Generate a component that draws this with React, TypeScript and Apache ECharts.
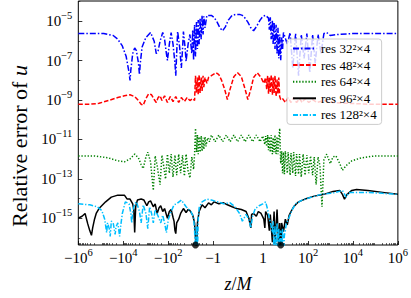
import React, { useEffect, useRef } from 'react';
import * as echarts from 'echarts';

// x axis: symmetric log (linthresh = 1, linscale = 1); y axis: log10 of the relative error
const X_MAX = 1e6;
const Y_MIN_EXP = -16.36;
const Y_MAX_EXP = -3.98;
const xTickValues = [-1e6, -1e4, -1e2, -1, 1, 1e2, 1e4, 1e6];
const yTickExps = [-15, -13, -11, -9, -7, -5];
const yMinorExps = [-16, -14, -12, -10, -8, -6, -4];
const seriesNames = ['res 32²×4', 'res 48²×4', 'res 64²×4', 'res 96²×4', 'res 128²×4'];

// [z/M, log10(relative error of u)]
const res32: [number, number][] = [
  [-1e6, -5.63], [-3.1e5, -5.63], [-7.4e4, -5.63], [-2.8e4, -5.73], [-1.75e4, -5.92], [-1.1e4, -6.26],
  [-7.4e3, -6.8], [-5.5e3, -7.62], [-5.0e3, -8.01], [-4.6e3, -7.48], [-3.8e3, -6.65], [-3.1e3, -6.36],
  [-2.6e3, -6.5], [-2.1e3, -7.14], [-1.9e3, -7.72], [-1.75e3, -7.14], [-1.45e3, -6.31], [-980, -5.83],
  [-610, -5.58], [-420, -6.02], [-340, -6.65], [-280, -6.5], [-230, -6.02], [-175, -5.58], [-145, -5.92],
  [-120, -6.65], [-108, -6.99], [-89, -6.17], [-74, -5.58], [-61, -6.17], [-50, -7.14], [-46, -7.77],
  [-42, -6.65], [-38, -5.53], [-31, -6.31], [-26, -7.38], [-23, -6.41], [-21, -5.53], [-17.5, -6.41],
  [-16, -7.04], [-13, -6.17], [-10.8, -5.68],
  [-8.9, -6.65], [-8.1, -5.44], [-7.4, -6.99], [-6.7, -5.19], [-6.1, -6.8], [-5.5, -5.05], [-5.0, -6.41],
  [-4.6, -4.95], [-4.2, -6.17], [-3.8, -4.85], [-3.4, -5.92], [-3.1, -4.71], [-2.8, -5.68], [-2.6, -4.76],
  [-2.3, -5.34], [-1.9, -4.71], [-1.2, -4.71], [-0.96, -4.81], [-0.84, -5.05], [-0.73, -5.34], [-0.62, -5.49],
  [-0.51, -5.29], [-0.39, -4.95], [-0.24, -4.71], [-0.09, -4.66], [0.06, -4.66], [0.17, -4.71], [0.28, -4.85],
  [0.39, -5.05], [0.51, -5.34], [0.62, -5.49], [0.73, -5.29], [0.88, -4.95], [0.99, -4.76], [1.3, -4.71],
  [1.75, -4.85], [1.9, -5.44], [2.1, -4.81], [2.3, -5.92], [2.6, -4.95], [2.8, -6.17], [3.1, -5.05],
  [3.4, -6.41], [3.8, -5.19], [4.2, -6.65], [4.6, -5.34], [5.0, -6.89], [5.5, -5.68], [6.1, -6.99],
  [6.7, -5.83], [7.4, -6.41], [8.1, -5.58],
  [12, -6.17], [16, -5.58], [21, -7.38], [28, -5.63], [38, -7.77], [50, -5.68], [67, -6.89], [89, -5.63],
  [120, -7.62], [160, -5.68], [210, -7.14], [280, -5.68], [380, -6.65], [510, -5.63], [680, -5.58],
  [980, -5.73], [2100, -5.68], [8900, -5.63], [6e4, -5.63], [1e6, -5.63],
];

const res48: [number, number][] = [
  [-1e6, -9.22], [-3.1e5, -9.22], [-1.2e5, -9.17], [-4.6e4, -9.03], [-1.75e4, -8.88], [-8.9e3, -8.79],
  [-5.0e3, -8.74], [-3.1e3, -8.83], [-2.1e3, -9.03], [-1.6e3, -9.22], [-1.3e3, -9.27], [-980, -8.93],
  [-740, -8.69], [-550, -8.74], [-420, -8.98], [-340, -9.13], [-280, -8.88], [-230, -8.79], [-190, -9.03],
  [-145, -8.79], [-108, -9.13], [-81, -8.83], [-61, -9.08], [-46, -8.83], [-34, -9.13], [-26, -8.88],
  [-19, -9.08], [-14.5, -8.88], [-10.8, -9.03], [-8.1, -8.93], [-6.7, -9.03],
  [-6.1, -7.77], [-5.5, -8.64], [-5.0, -7.86], [-4.6, -8.74], [-4.2, -7.72], [-3.8, -8.64], [-3.4, -7.86],
  [-3.1, -8.54], [-2.8, -7.77], [-2.6, -8.35], [-2.3, -7.86], [-1.9, -8.16], [-1.6, -7.86], [-1.2, -7.77],
  [-0.88, -7.62], [-0.77, -7.72], [-0.66, -8.01], [-0.54, -8.45], [-0.43, -8.98], [-0.32, -8.45],
  [-0.17, -7.82], [-0.02, -7.62], [0.13, -7.82], [0.28, -8.45], [0.39, -8.98], [0.51, -8.45], [0.62, -7.86],
  [0.77, -7.62], [0.92, -7.86], [1.08, -8.16], [1.3, -7.86], [1.45, -8.45], [1.6, -7.77], [1.75, -8.69],
  [1.9, -7.86], [2.1, -8.59], [2.3, -7.72], [2.6, -8.74], [2.8, -7.86], [3.1, -8.64], [3.4, -7.77],
  [3.8, -8.83], [4.2, -7.96], [4.6, -8.69], [5.0, -7.86], [5.5, -8.83], [6.1, -8.98],
  [7.4, -8.93], [9.8, -9.13], [13, -8.88], [17.5, -9.13], [23, -8.88], [31, -9.13], [42, -8.93], [55, -9.13],
  [74, -8.93], [108, -9.13], [160, -8.98], [255, -9.13], [510, -9.03], [1300, -9.13], [5500, -9.17],
  [6.1e4, -9.22], [1e6, -9.22],
];

const res64: [number, number][] = [
  [-1e6, -11.84], [-1.9e5, -11.84], [-4.6e4, -11.94], [-1.75e4, -12.09], [-8.9e3, -12.14], [-5.0e3, -11.99],
  [-3.1e3, -11.75], [-2.1e3, -11.94], [-1.6e3, -12.28], [-1.3e3, -12.48], [-980, -11.89], [-810, -11.65],
  [-610, -12.14], [-460, -13.59], [-380, -11.84], [-310, -12.33], [-230, -13.3], [-190, -11.8], [-160, -12.33],
  [-131, -13.01], [-108, -11.75], [-89, -12.72], [-74, -11.75], [-61, -12.91], [-50, -11.8], [-42, -12.82],
  [-34, -11.75], [-28, -12.72], [-23, -11.8], [-19, -12.86], [-16, -11.75], [-13, -12.62], [-10.8, -12.96],
  [-8.9, -11.89], [-7.4, -12.52], [-6.7, -11.75],
  [-6.1, -10.44], [-5.5, -11.65], [-5.0, -10.78], [-4.6, -11.75], [-4.2, -10.87], [-3.8, -11.65], [-3.4, -10.83],
  [-3.1, -11.6], [-2.8, -10.92], [-2.6, -11.5], [-2.3, -10.87], [-2.1, -11.36], [-1.75, -10.92], [-1.45, -11.12],
  [-1.2, -10.78], [-0.92, -11.12], [-0.77, -10.78], [-0.62, -11.12], [-0.47, -10.78], [-0.32, -11.12],
  [-0.17, -10.78], [-0.02, -11.12], [0.13, -10.78], [0.28, -11.12], [0.43, -10.78], [0.58, -11.12],
  [0.73, -10.78], [0.88, -11.12], [0.99, -10.83], [1.2, -11.26], [1.3, -10.83], [1.45, -11.36], [1.6, -10.78],
  [1.75, -11.55], [1.9, -10.87], [2.1, -11.65], [2.3, -10.78], [2.6, -11.75], [2.8, -10.92], [3.1, -11.65],
  [3.4, -10.78], [3.8, -11.75], [4.2, -10.87], [4.6, -11.75], [5.0, -11.02], [5.5, -10.44], [6.1, -12.23],
  [6.7, -11.6], [7.4, -12.72], [8.1, -11.65], [8.9, -12.77], [9.8, -11.6], [12, -12.72], [13, -11.65],
  [16, -12.82], [17.5, -11.7], [21, -12.72], [23, -11.65], [28, -12.86], [31, -11.75], [38, -12.77],
  [42, -11.75], [50, -12.91], [61, -11.75], [74, -12.82], [89, -11.8], [108, -12.72], [130, -11.84],
  [160, -12.82], [190, -11.89], [230, -13.3], [280, -11.89], [340, -12.33], [420, -14.42], [510, -12.04],
  [680, -11.75], [980, -12.23], [1300, -11.89], [1750, -11.84], [2600, -12.23], [3400, -12.57], [5000, -12.33],
  [8900, -12.09], [2.3e4, -11.94], [9.8e4, -11.84], [1e6, -11.84],
];

const res96: [number, number][] = [
  [-1e6, -15.0], [-6.8e5, -14.9], [-5.0e5, -14.76], [-3.8e5, -15.29], [-3.1e5, -15.63], [-2.6e5, -15.87],
  [-2.3e5, -15.49], [-1.9e5, -15.05], [-1.6e5, -14.76], [-1.2e5, -14.51], [-6.1e4, -14.17], [-3.4e4, -13.93],
  [-1.75e4, -13.83], [-8.9e3, -13.83], [-6.7e3, -14.03], [-5.0e3, -14.03], [-3.8e3, -14.27], [-3.4e3, -14.56],
  [-3.1e3, -15.73], [-2.8e3, -14.42], [-2.35e3, -14.08], [-1.6e3, -14.03], [-1.2e3, -14.08], [-890, -14.37],
  [-740, -14.17], [-610, -14.12], [-460, -14.42], [-380, -14.27], [-310, -14.76], [-255, -14.47],
  [-215, -14.37], [-175, -14.66], [-145, -14.51], [-108, -15.0], [-89, -14.66], [-74, -14.56], [-61, -14.95],
  [-55, -15.15], [-50, -15.63], [-46, -15.78], [-42, -15.24], [-34, -15.05], [-28, -14.76], [-21, -14.51],
  [-16, -14.71], [-13, -14.56], [-10.8, -14.61], [-8.1, -14.85], [-6.7, -15.24], [-6.1, -16.02],
  [-5.5, -16.7], [-5.0, -15.24], [-4.2, -14.66], [-3.1, -14.32], [-2.3, -14.47], [-1.6, -14.22],
  [-1.2, -14.32], [-0.96, -14.17], [-0.77, -14.27], [-0.58, -14.22], [-0.43, -14.32], [-0.24, -14.42],
  [-0.06, -14.51], [0.13, -14.56], [0.32, -14.66], [0.43, -15.0], [0.51, -15.49], [0.54, -14.81],
  [0.62, -14.76], [0.73, -14.9], [0.81, -14.66], [0.92, -14.76], [1.08, -15.05], [1.2, -15.49], [1.3, -14.66],
  [1.6, -14.85], [1.9, -15.63], [2.1, -14.81], [2.6, -16.22], [3.1, -14.66], [3.4, -16.26], [4.2, -14.56],
  [4.6, -15.63], [5.0, -16.7], [5.5, -15.24], [6.1, -16.7], [6.7, -15.24], [8.1, -15.68], [9.8, -15.05],
  [12, -15.34], [14.5, -14.85], [17.5, -14.66], [23, -14.42], [38, -14.17], [74, -14.03], [190, -13.88],
  [510, -13.79], [1300, -13.64], [2600, -13.59], [3400, -13.79], [4200, -14.03], [5500, -13.79],
  [8900, -13.59], [1.45e4, -13.54], [4.6e4, -13.59], [2.1e5, -13.69], [1e6, -13.79],
];

const res128: [number, number][] = [
  [-1e6, -14.27], [-3.1e5, -14.32], [-1.45e5, -14.42], [-9.0e4, -14.61], [-6.7e4, -15.05], [-5.5e4, -15.73],
  [-5.0e4, -15.24], [-4.2e4, -15.53], [-3.8e4, -15.92], [-3.4e4, -15.15], [-2.8e4, -15.24], [-2.3e4, -15.82],
  [-2.1e4, -15.44], [-1.75e4, -15.24], [-1.45e4, -15.92], [-1.3e4, -15.39], [-1.1e4, -14.76], [-8.1e3, -14.17],
  [-5.5e3, -14.27], [-4.6e3, -14.76], [-4.2e3, -15.24], [-3.8e3, -14.66], [-3.1e3, -14.27], [-2.6e3, -14.17],
  [-1.9e3, -14.66], [-1.6e3, -15.24], [-1.3e3, -14.32], [-980, -14.76], [-810, -15.53], [-670, -14.42],
  [-550, -14.76], [-460, -15.24], [-380, -14.56], [-280, -14.9], [-215, -15.24], [-175, -14.85],
  [-145, -15.24], [-120, -15.73], [-98, -15.05], [-74, -14.66], [-55, -14.32], [-42, -14.27], [-26, -14.08],
  [-16, -14.42], [-9.8, -14.66], [-7.4, -14.95], [-6.7, -15.63], [-6.1, -16.9], [-5.5, -15.39], [-5.0, -16.9],
  [-4.6, -15.05], [-4.2, -14.47], [-3.1, -14.17], [-1.9, -14.03], [-1.2, -14.08], [-0.81, -14.17],
  [-0.58, -14.27], [-0.32, -14.22], [-0.13, -14.42], [0.06, -14.76], [0.17, -15.15], [0.32, -14.81],
  [0.43, -15.05], [0.51, -15.49], [0.58, -14.9], [0.69, -14.51], [0.84, -14.37], [0.99, -14.27], [1.3, -14.17],
  [1.6, -14.56], [1.9, -15.0], [2.3, -15.39], [2.6, -15.73], [2.8, -15.15], [3.1, -16.9], [3.4, -15.39],
  [3.8, -16.9], [4.2, -15.24], [4.6, -16.9], [5.0, -15.53], [5.5, -16.9], [6.1, -15.63], [6.7, -16.9],
  [7.4, -15.53], [8.1, -16.9], [8.9, -15.87], [9.8, -15.63], [10.8, -15.29], [14.5, -14.95], [21, -14.51],
  [28, -14.27], [55, -14.08], [145, -13.93], [380, -13.79], [980, -13.74], [1750, -13.69], [3400, -13.59],
  [5000, -13.93], [6700, -13.69], [1.75e4, -13.69], [4.6e4, -13.69], [2.1e5, -13.74], [1e6, -13.79],
];

const horizonZ = [-6.1, 6.1];

const FONT = "'Liberation Serif', 'DejaVu Serif', serif";
const LINSCALE_ADJ = 1 / (1 - 1 / 10);

function symlog(z: number): number {
  const a = Math.abs(z);
  if (a <= 1) return z * LINSCALE_ADJ;
  return Math.sign(z) * (LINSCALE_ADJ + Math.log10(a));
}

function xLabel(z: number): string {
  const sign = z < 0 ? '−' : '';
  const a = Math.abs(z);
  if (a === 1) return '{b|' + sign + '1}';
  return '{b|' + sign + '10}{s|' + Math.round(Math.log10(a)) + '}';
}

const xMinor: number[] = [];
for (let k = 0; k < 6; k++) {
  for (let m = 2; m <= 9; m++) {
    xMinor.push(symlog(m * Math.pow(10, k)), symlog(-m * Math.pow(10, k)));
  }
}

const toXY = (arr: [number, number][]) => arr.map(([z, e]) => [symlog(z), e]);

export default function App() {
  const ref = useRef<HTMLDivElement>(null);
  useEffect(() => {
    const chart = echarts.init(ref.current!, null, { renderer: 'svg' });
    const xMin = symlog(-X_MAX);
    const xMax = symlog(X_MAX);
    const majorX = xTickValues.map(symlog);
    const tickRich = {
      b: { fontSize: 15, lineHeight: 22, fontFamily: FONT, color: '#000' },
      s: { fontSize: 10.5, lineHeight: 9, verticalAlign: 'top', fontFamily: FONT, color: '#000' },
    };
    const lineStyles: any[] = [
      { color: '#0000ff', width: 1.5, type: [6, 2, 1.5, 2] },
      { color: '#ff0000', width: 1.5, type: [4.5, 2] },
      { color: '#008000', width: 1.5, type: [1.3, 1.8] },
      { color: '#000000', width: 1.5, type: 'solid' },
      { color: '#00bfff', width: 1.5, type: [5, 1.8, 1.3, 1.8] },
    ];
    const datasets = [res32, res48, res64, res96, res128];
    const option: any = {
      animation: false,
      backgroundColor: '#fff',
      textStyle: { fontFamily: FONT },
      grid: { left: 58, right: 12, top: 1, bottom: 43, show: true, borderColor: '#000', borderWidth: 1 },
      legend: {
        orient: 'vertical',
        left: 287,
        top: 39,
        padding: [3, 5, 3, 5],
        itemGap: 3.6,
        itemWidth: 23,
        itemHeight: 14,
        backgroundColor: 'rgba(255,255,255,0.8)',
        borderColor: '#cccccc',
        borderWidth: 1,
        borderRadius: 3,
        itemStyle: { color: 'rgba(0,0,0,0)', borderColor: 'rgba(0,0,0,0)', borderWidth: 0, opacity: 0 },
        textStyle: { fontFamily: FONT, fontSize: 13, color: '#000' },
        data: seriesNames,
      },
      xAxis: [
        {
          type: 'value', min: xMin, max: xMax, position: 'bottom',
          axisLine: { show: false, onZero: false },
          splitLine: { show: false },
          axisTick: { show: true, inside: true, length: 4, customValues: majorX, lineStyle: { color: '#000', width: 0.8 } },
          axisLabel: {
            show: true, customValues: majorX, margin: 2,
            fontFamily: FONT, fontSize: 15, lineHeight: 22, color: '#000',
            formatter: (v: number) => {
              const i = majorX.findIndex((t) => Math.abs(t - v) < 1e-6);
              return i >= 0 ? xLabel(xTickValues[i]) : '';
            },
            rich: tickRich,
          },
          name: '{i|z}/{i|M}',
          nameLocation: 'middle',
          nameGap: 30,
          nameTextStyle: {
            fontFamily: FONT, fontSize: 18, color: '#000',
            rich: { i: { fontFamily: FONT, fontSize: 18, fontStyle: 'italic', color: '#000' } },
          },
        },
        {
          type: 'value', min: xMin, max: xMax, position: 'bottom',
          axisLine: { show: false, onZero: false },
          splitLine: { show: false },
          axisLabel: { show: false },
          axisTick: { show: true, inside: true, length: 2, customValues: xMinor, lineStyle: { color: '#000', width: 0.6 } },
        },
      ],
      yAxis: [
        {
          type: 'value', min: Y_MIN_EXP, max: Y_MAX_EXP, position: 'left',
          axisLine: { show: false, onZero: false },
          splitLine: { show: false },
          axisTick: { show: true, inside: true, length: 4, customValues: yTickExps, lineStyle: { color: '#000', width: 0.8 } },
          axisLabel: {
            show: true, customValues: yTickExps, margin: 6,
            fontFamily: FONT, fontSize: 15, lineHeight: 22, color: '#000',
            formatter: (v: number) => '{b|10}{s|−' + Math.abs(Math.round(v)) + '}',
            rich: tickRich,
          },
          name: 'Relative error of {i|u}',
          nameLocation: 'middle',
          nameGap: 37,
          nameRotate: 90,
          nameTextStyle: {
            fontFamily: FONT, fontSize: 22, color: '#000', padding: [0, 46, 0, 0],
            rich: { i: { fontFamily: FONT, fontSize: 22, fontStyle: 'italic', color: '#000' } },
          },
        },
        {
          type: 'value', min: Y_MIN_EXP, max: Y_MAX_EXP, position: 'left',
          axisLine: { show: false, onZero: false },
          splitLine: { show: false },
          axisLabel: { show: false },
          axisTick: { show: true, inside: true, length: 2, customValues: yMinorExps, lineStyle: { color: '#000', width: 0.6 } },
        },
      ],
      series: [
        ...datasets.map((d, i) => ({
          name: seriesNames[i],
          type: 'line',
          data: toXY(d),
          symbol: 'none',
          showSymbol: false,
          clip: true,
          lineStyle: lineStyles[i],
          itemStyle: { color: lineStyles[i].color },
          z: 2 + i * 0.1,
        })),
        {
          name: 'horizon',
          type: 'scatter',
          data: horizonZ.map((z) => [symlog(z), Y_MIN_EXP]),
          symbol: 'circle',
          symbolSize: 7,
          itemStyle: { color: '#000' },
          clip: false,
          z: 5,
        },
      ],
    };
    chart.setOption(option);
    return () => chart.dispose();
  }, []);
  return <div ref={ref} style={{ position: 'fixed', left: 0, top: 0, width: 411, height: 298 }} />;
}
